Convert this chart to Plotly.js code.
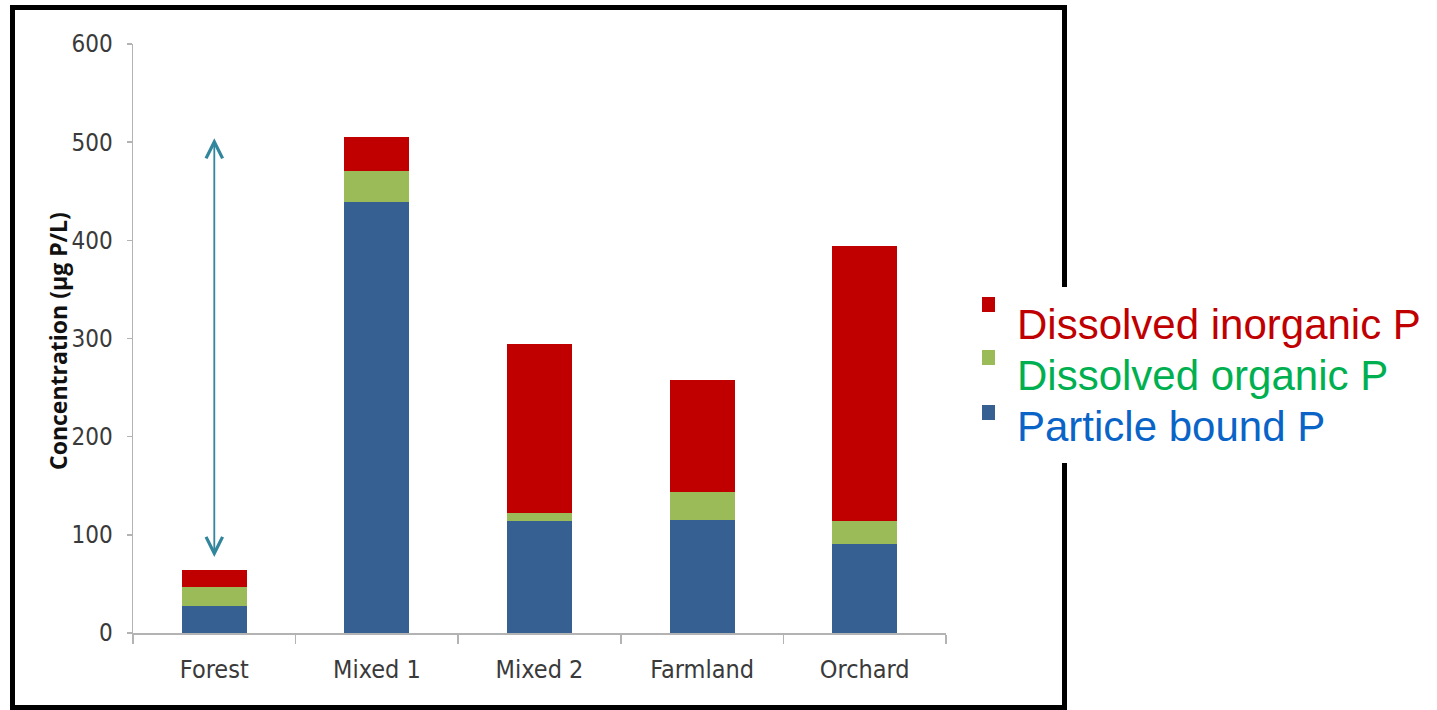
<!DOCTYPE html>
<html>
<head>
<meta charset="utf-8">
<script src="https://cdn.plot.ly/plotly-3.0.1.min.js"></script>
<style>
  html, body { margin: 0; padding: 0; background: #ffffff; }
  #chart { width: 1437px; height: 710px; }
</style>
</head>
<body>
<div id="chart"></div>
<script>
// Phosphorus fractions by land use (µg P/L)
const categories = ["Forest", "Mixed 1", "Mixed 2", "Farmland", "Orchard"];
const particleBound = [28, 439, 114, 115, 91];
const dissolvedOrganic = [19, 32, 8, 29, 23];
const dissolvedInorganic = [17, 34, 172, 114, 280];
const yTicks = [0, 100, 200, 300, 400, 500, 600];
const yTitle = "Concentration (µg P/L)";

// Legend entries, top to bottom: label, swatch colour, text colour
const legendLabels = ["Dissolved inorganic P", "Dissolved organic P", "Particle bound P"];
const legendSwatches = ["#c00000", "#9bbb59", "#376092"];
const legendTextColors = ["#c00000", "#00b050", "#0a64c8"];

// Range marked by the double-headed arrow over the Forest bar
const arrowFrom = 76;
const arrowTo = 504;

const yTickFont = { family: "Liberation Sans Narrow, DejaVu Sans Condensed, sans-serif", size: 24, color: "#3a3a3a" };
const xTickFont = { family: "Liberation Sans Narrow, DejaVu Sans Condensed, sans-serif", size: 25, color: "#3a3a3a" };
const axisColor = "#b3b3b3";

const traces = [
  { type: "bar", x: categories, y: particleBound, name: legendLabels[2],
    marker: { color: legendSwatches[2] }, width: 0.4 },
  { type: "bar", x: categories, y: dissolvedOrganic, name: legendLabels[1],
    marker: { color: legendSwatches[1] }, width: 0.4 },
  { type: "bar", x: categories, y: dissolvedInorganic, name: legendLabels[0],
    marker: { color: legendSwatches[0] }, width: 0.4 }
];

// plot area spans x 133..946 and y 44..633 in page pixels
const L = 133, R = 946, T = 44, B = 633;
const px = v => (v - L) / (R - L);
const py = v => (B - v) / (B - T);

const shapes = [
  // frame around the chart
  { type: "rect", xref: "paper", yref: "paper", layer: "below",
    x0: px(12.5), x1: px(1064.5), y0: py(707.5), y1: py(7.5),
    line: { color: "#000000", width: 5 }, fillcolor: "rgba(0,0,0,0)" },
  // white backing of the legend block, which interrupts the frame
  { type: "rect", xref: "paper", yref: "paper", layer: "above",
    x0: px(972), x1: px(1437), y0: py(463), y1: py(287),
    line: { width: 0 }, fillcolor: "#ffffff" }
];

const annotations = [
  { x: "Forest", y: arrowTo, ax: "Forest", ay: arrowFrom,
    xref: "x", yref: "y", axref: "x", ayref: "y",
    text: "", showarrow: true,
    arrowside: "end+start",
    arrowhead: 5, startarrowhead: 5,
    arrowsize: 1.8, startarrowsize: 1.8,
    arrowwidth: 1.8, arrowcolor: "#31859c",
    standoff: 0, startstandoff: 0 },
  // vertical axis title
  { xref: "paper", yref: "paper", x: px(58), y: py(341),
    xanchor: "center", yanchor: "middle", textangle: -90, showarrow: false,
    text: "<b>" + yTitle + "</b>",
    font: { family: "Open Sans, sans-serif", size: 23, color: "#111111" } }
];

// legend block: swatch + coloured label per row
const swatchTop = [297, 350, 405];
const textMid = [324, 375, 426];
legendLabels.forEach((label, i) => {
  shapes.push({
    type: "rect", xref: "paper", yref: "paper", layer: "above",
    x0: px(982), x1: px(995), y0: py(swatchTop[i] + 15), y1: py(swatchTop[i]),
    line: { width: 0 }, fillcolor: legendSwatches[i]
  });
  annotations.push({
    xref: "paper", yref: "paper", x: px(1015), y: py(textMid[i]),
    xanchor: "left", yanchor: "middle", showarrow: false,
    text: label,
    font: { family: "Liberation Sans, Arial, sans-serif", size: 42, color: legendTextColors[i] }
  });
});

const layout = {
  width: 1437, height: 710,
  margin: { l: L, r: 1437 - R, t: T, b: 710 - B },
  barmode: "stack",
  paper_bgcolor: "#ffffff",
  plot_bgcolor: "#ffffff",
  showlegend: false,
  xaxis: {
    type: "category",
    showline: true, linecolor: axisColor, linewidth: 1.5,
    ticks: "outside", tickson: "boundaries", ticklen: 9, tickcolor: axisColor, tickwidth: 1.5,
    ticklabelstandoff: 13,
    tickfont: xTickFont,
    showgrid: false, zeroline: false, fixedrange: true
  },
  yaxis: {
    range: [0, 600],
    tickvals: yTicks,
    ticktext: yTicks.map(String),
    showline: true, linecolor: axisColor, linewidth: 1.5,
    ticks: "outside", ticklen: 5, tickcolor: axisColor, tickwidth: 1.5,
    ticklabelstandoff: 9,
    tickfont: yTickFont,
    showgrid: false, zeroline: false, fixedrange: true
  },
  shapes: shapes,
  annotations: annotations
};

Plotly.newPlot("chart", traces, layout, { displayModeBar: false, staticPlot: true });
</script>
</body>
</html>
